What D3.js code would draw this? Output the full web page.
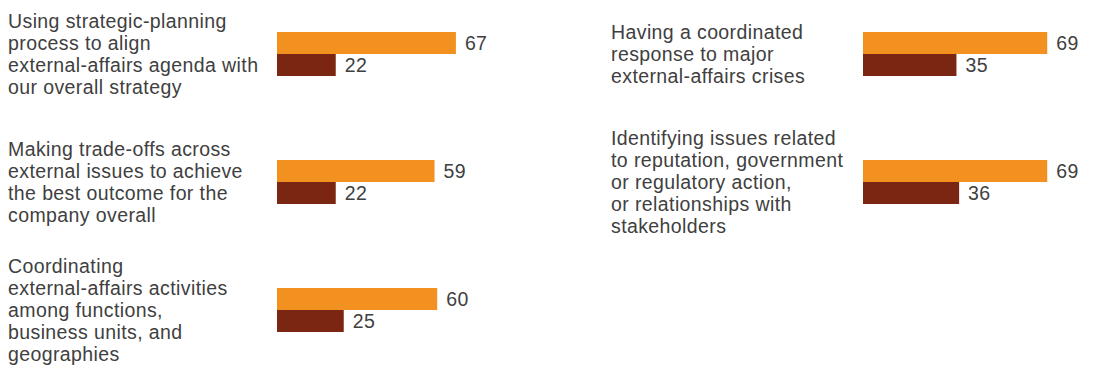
<!DOCTYPE html>
<html lang="en">
<head>
  <meta charset="UTF-8">
  <script src="https://cdn.jsdelivr.net/npm/d3@7"></script>
  <title>External affairs</title>
  <style>
    body { margin: 0; background: #fff; }
    text { font-family: "Liberation Sans", Arial, sans-serif; fill: #404040; letter-spacing: 0.4px; }
  </style>
</head>
<body>
  <svg width="1097" height="367" id="chart"></svg>
  <script>
    // labels are wrapped by hand, same as the original
    const leftCategories = [
      ["Using strategic-planning", "process to align", "external-affairs agenda with", "our overall strategy"],
      ["Making trade-offs across", "external issues to achieve", "the best outcome for the", "company overall"],
      ["Coordinating", "external-affairs activities", "among functions,", "business units, and", "geographies"]
    ];
    const leftTop = [67, 59, 60];
    const leftBottom = [22, 22, 25];

    const rightCategories = [
      ["Having a coordinated", "response to major", "external-affairs crises"],
      ["Identifying issues related", "to reputation, government", "or regulatory action,", "or relationships with", "stakeholders"]
    ];
    const rightTop = [69, 69];
    const rightBottom = [35, 36];

    const series = ["top", "bottom"];
    const colors = { top: "#f29020", bottom: "#7b2613" };

    let svg = d3.select("#chart");

    let scaleX = d3.scaleLinear().domain([0, 100]).range([0, 267]);
    let scaleRow = d3.scaleBand().domain([0, 1, 2]).range([-10, 374]);
    let scaleSeries = d3.scaleBand().domain(series).range([-22, 22]);

    const fontSize = 19.5, lineH = 22.2;

    function drawColumn(cats, top, bottom, textX, barX) {
      let rows = cats.map((c, i) => ({ lines: c, top: top[i], bottom: bottom[i], i: i }));

      let g = svg.selectAll(null)
        .data(rows)
        .enter()
        .append("g")
        .attr("transform", d => "translate(0," + (scaleRow(d.i) + scaleRow.bandwidth() / 2) + ")");

      // category label, centred on the pair of bars
      g.append("text")
        .attr("x", textX)
        .style("font-size", fontSize + "px")
        .each(function(d) {
          let n = d.lines.length;
          let first = -(n - 1) * lineH / 2 + fontSize * 0.36;
          d3.select(this).selectAll("tspan")
            .data(d.lines)
            .enter()
            .append("tspan")
            .attr("x", textX)
            .attr("y", (l, k) => first + k * lineH)
            .text(l => l);
        });

      series.forEach(s => {
        g.append("rect")
          .attr("x", barX)
          .attr("y", scaleSeries(s))
          .attr("width", d => scaleX(d[s]))
          .attr("height", scaleSeries.bandwidth())
          .attr("fill", colors[s]);

        g.append("text")
          .attr("x", d => barX + scaleX(d[s]) + 9)
          .attr("y", scaleSeries(s) + scaleSeries.bandwidth() / 2)
          .attr("dy", "0.36em")
          .style("font-size", fontSize + "px")
          .text(d => d[s]);
      });
    }

    drawColumn(leftCategories, leftTop, leftBottom, 8, 277);
    drawColumn(rightCategories, rightTop, rightBottom, 611, 863);
  </script>
</body>
</html>
